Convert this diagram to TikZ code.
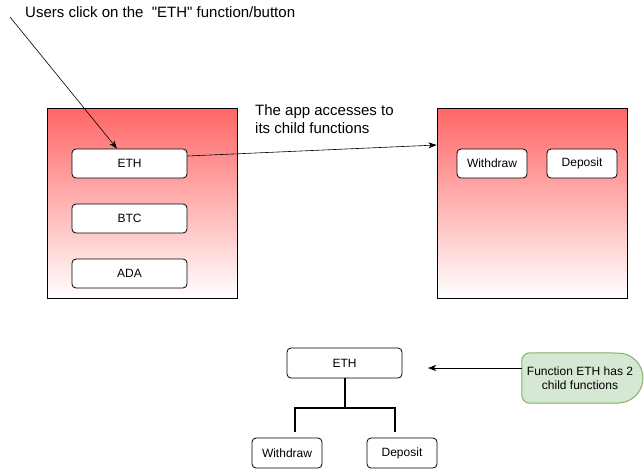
\documentclass[tikz,border=0pt]{standalone}
\usepackage{fontspec}
\setmainfont{Liberation Sans}[Ligatures=TeXOff]
\usetikzlibrary{arrows.meta}
\definecolor{panelred}{RGB}{255,102,102}
\definecolor{notefill}{RGB}{213,232,212}
\definecolor{notedraw}{RGB}{130,179,102}
\tikzset{
  panel/.style={draw=black, line width=0.9pt, top color=panelred, bottom color=white, minimum width=190pt, minimum height=190pt, inner sep=0pt},
  btn/.style={draw=black, fill=white, rounded corners=4pt, line width=0.8pt, minimum height=29pt, inner sep=0pt, font=\fontsize{12}{14}\selectfont},
  wide/.style={btn, minimum width=115pt},
  small/.style={btn, minimum width=70pt},
  lbl/.style={inner sep=0pt, font=\fontsize{15}{18}\selectfont, align=left},
  conn/.style={line width=0.6pt, -{Stealth[length=8pt,width=6pt,inset=2pt]}},
  tree/.style={line width=2pt},
}
\begin{document}
\begin{tikzpicture}[x=1pt,y=-1pt]
\useasboundingbox (0,0) rectangle (644,469);
% panels
\node[panel] (lp) at (142,203) {};
\node[panel] (rp) at (532,203) {};
% left buttons
\node[wide] (eth) at (129.5,163.5) {ETH};
\node[wide] (btc) at (129.5,218.5) {BTC};
\node[wide] (ada) at (129.5,273.5) {ADA};
% right buttons
\node[small] (wd) at (492,163.5) {Withdraw};
\node[small] (dp) at (582,163.5) {Deposit};
% labels
\node[lbl, anchor=west] (t1) at (25,12) {Users click on the\ \ "ETH" function/button};
\node[lbl, anchor=west] (t2) at (255,119) {The app accesses to\\its child functions};
% arrows top
\coordinate (usr) at (10,17);
\draw[conn] (usr) -- ([xshift=-12.5pt]eth.north);
\draw[conn] ([yshift=7.5pt]eth.east) -- ([yshift=58pt]rp.west);
% bottom tree
\node[wide, minimum height=30pt] (e2) at (344.5,363) {ETH};
\node[small, minimum height=30pt] (w2) at (287,453) {Withdraw};
\node[small, minimum height=30pt] (d2) at (402,453) {Deposit};
\coordinate (jl) at (295,408);
\coordinate (jr) at (395,408);
\coordinate (tl) at (295,432);
\coordinate (tr) at (395,432);
\draw[tree] (e2.south) -- (e2.south |- jl);
\draw[tree] (tl) -- (jl) -- (jr) -- (tr);
% note
\node[minimum width=121pt, minimum height=50pt, inner sep=0pt] (note) at (582.5,378) {};
\draw[draw=notedraw, fill=notefill, line width=1pt]
  ([xshift=8pt]note.north west) -- (618,353) arc[start angle=90, end angle=-90, radius=25pt]
  -- ([xshift=8pt]note.south west) to[out=180,in=-90] ([yshift=8pt]note.south west)
  -- ([yshift=-8pt]note.north west) to[out=90,in=180] ([xshift=8pt]note.north west) -- cycle;
\node[align=center, inner sep=0pt, font=\fontsize{12}{14}\selectfont] (notetext) at (580,378) {Function ETH has 2\\child functions};
\coordinate (tip) at (428,368);
\draw[conn] ([yshift=10pt]note.west) -- (tip);
\end{tikzpicture}
\end{document}
